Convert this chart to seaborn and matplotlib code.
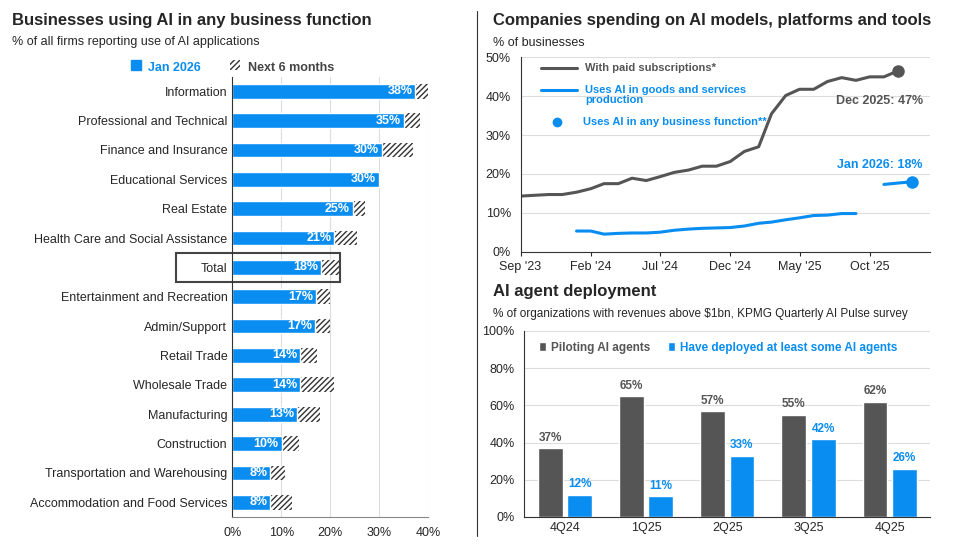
import matplotlib.pyplot as plt
import seaborn as sns
import numpy as np
import pandas as pd

sns.set_style("white")
plt.rcParams['font.family'] = ['Liberation Sans', 'DejaVu Sans']

BLUE = "#0a8df0"
GREY = "#555555"

# left panel
sectors = ["Information", "Professional and Technical", "Finance and Insurance", "Educational Services",
           "Real Estate", "Health Care and Social Assistance", "Total", "Entertainment and Recreation",
           "Admin/Support", "Retail Trade", "Wholesale Trade", "Manufacturing", "Construction",
           "Transportation and Warehousing", "Accommodation and Food Services"]
jan26 = [37.4, 35.0, 30.5, 30.0, 24.6, 20.8, 18.2, 17.1, 16.9, 13.9, 13.9, 13.2, 10.1, 7.8, 7.8]
next6 = [40.1, 38.4, 36.9, 30.0, 27.2, 25.5, 22.2, 19.9, 19.9, 17.4, 20.7, 18.0, 13.6, 10.7, 12.3]
jan_labels = ["38%", "35%", "30%", "30%", "25%", "21%", "18%", "17%", "17%", "14%", "14%", "13%", "10%", "8%", "8%"]

# top right
months = pd.date_range("2023-09-01", "2025-12-01", freq="MS")
paid = [14.3, 14.5, 14.7, 14.7, 15.3, 16.2, 17.5, 17.5, 18.9, 18.3, 19.3, 20.4, 21.0, 22.0, 22.0, 23.2,
        25.8, 27.0, 35.5, 40.2, 41.8, 41.8, 43.8, 44.8, 44.1, 45.0, 45.0, 46.5]
prod_months = pd.date_range("2024-01-01", "2025-09-01", freq="MS")
production = [5.3, 5.3, 4.5, 4.7, 4.8, 4.8, 5.0, 5.5, 5.8, 6.0, 6.1, 6.2, 6.6, 7.3, 7.6, 8.2, 8.7, 9.3, 9.4, 9.8, 9.8]
any_months = pd.to_datetime(["2025-11-01", "2026-01-01"])
any_func = [17.3, 18.0]

# bottom right
quarters = ["4Q24", "1Q25", "2Q25", "3Q25", "4Q25"]
piloting = [37, 65, 57, 55, 62]
deployed = [12, 11, 33, 42, 26]

fig = plt.figure(figsize=(9.64, 5.47), dpi=100)
ax1 = fig.add_axes([0.241, 0.055, 0.203, 0.805])
ax2 = fig.add_axes([0.54, 0.54, 0.425, 0.355])
ax3 = fig.add_axes([0.544, 0.055, 0.421, 0.34])
fig.add_artist(plt.Line2D([0.495, 0.495], [0.02, 0.98], color="#333333", lw=0.8))

# ---- left bars
y = np.arange(len(sectors))
ax1.barh(y, next6, height=0.5, color="white", edgecolor="#333333", hatch="//////", lw=0)
sns.barplot(x=jan26, y=sectors, orient="h", color=BLUE, width=0.5, ax=ax1, saturation=1)
for i, (v, t) in enumerate(zip(jan26, jan_labels)):
    ax1.text(v - 0.6, i, t, ha="right", va="center", color="white", fontsize=9, fontweight="bold")
ax1.set_xlim(0, 40)
ax1.set_ylim(len(sectors) - 0.5, -0.5)
ax1.set_xticks([0, 10, 20, 30, 40])
ax1.set_xticklabels(["0%", "10%", "20%", "30%", "40%"], fontsize=9)
ax1.tick_params(axis="y", labelsize=9, length=0)
ax1.grid(axis="x", color="#dddddd")
ax1.set_axisbelow(True)
for s in ["top", "right"]:
    ax1.spines[s].set_visible(False)
ax1.spines["left"].set_color("#333333")
ax1.spines["bottom"].set_color("#888888")
ax1.add_patch(plt.Rectangle((-11.5, 5.5), 33.5, 1.0, fill=False, edgecolor="#444444", lw=1.5, clip_on=False))
fig.text(0.012, 0.955, "Businesses using AI in any business function", fontsize=12, fontweight="bold")
fig.text(0.012, 0.918, "% of all firms reporting use of AI applications", fontsize=9)
fig.patches.append(plt.Rectangle((0.136, 0.872), 0.01, 0.018, color=BLUE, transform=fig.transFigure))
fig.text(0.154, 0.871, "Jan 2026", fontsize=9, fontweight="bold", color=BLUE)
fig.patches.append(plt.Rectangle((0.239, 0.872), 0.01, 0.018, facecolor="white", edgecolor="#333333",
                                 hatch="//////", lw=0, transform=fig.transFigure))
fig.text(0.257, 0.871, "Next 6 months", fontsize=9, fontweight="bold", color="#444444")

# ---- top right lines
sns.lineplot(x=months, y=paid, color=GREY, lw=2.2, ax=ax2)
sns.lineplot(x=prod_months, y=production, color=BLUE, lw=2.2, ax=ax2)
sns.lineplot(x=any_months, y=any_func, color=BLUE, lw=2.2, ax=ax2)
ax2.plot(months[-1], paid[-1], "o", color=GREY, ms=8)
ax2.plot(any_months[-1], any_func[-1], "o", color=BLUE, ms=8)
ax2.text(pd.Timestamp("2026-01-25"), 38, "Dec 2025: 47%", ha="right", fontsize=9, fontweight="bold", color=GREY)
ax2.text(pd.Timestamp("2026-01-25"), 21.5, "Jan 2026: 18%", ha="right", fontsize=9, fontweight="bold", color=BLUE)
ax2.plot([pd.Timestamp("2023-10-15"), pd.Timestamp("2024-01-01")], [47.3, 47.3], color=GREY, lw=2.2)
ax2.text(pd.Timestamp("2024-01-20"), 47.3, "With paid subscriptions*", va="center", fontsize=8, fontweight="bold", color=GREY)
ax2.plot([pd.Timestamp("2023-10-15"), pd.Timestamp("2024-01-01")], [41.5, 41.5], color=BLUE, lw=2.2)
ax2.text(pd.Timestamp("2024-01-20"), 40.3, "Uses AI in goods and services\nproduction", va="center",
         fontsize=8, fontweight="bold", color=BLUE, linespacing=1.0)
ax2.plot(pd.Timestamp("2023-11-20"), 33.5, "o", color=BLUE, ms=6)
ax2.text(pd.Timestamp("2024-01-15"), 33.5, "Uses AI in any business function**", va="center", fontsize=8, fontweight="bold", color=BLUE)
ax2.set_xlim(pd.Timestamp("2023-09-01"), pd.Timestamp("2026-02-10"))
ax2.set_ylim(0, 50)
ax2.set_yticks(range(0, 51, 10))
ax2.set_yticklabels([f"{v}%" for v in range(0, 51, 10)], fontsize=9)
ticks = pd.to_datetime(["2023-09-01", "2024-02-01", "2024-07-01", "2024-12-01", "2025-05-01", "2025-10-01"])
ax2.set_xticks(ticks)
ax2.set_xticklabels(["Sep '23", "Feb '24", "Jul '24", "Dec '24", "May '25", "Oct '25"], fontsize=9)
ax2.set_xlabel("")
ax2.set_ylabel("")
ax2.tick_params(axis="x", length=3, bottom=True)
ax2.grid(axis="y", color="#dddddd")
for s in ["top", "right"]:
    ax2.spines[s].set_visible(False)
ax2.spines["left"].set_color("#333333")
ax2.spines["bottom"].set_color("#333333")
fig.text(0.511, 0.955, "Companies spending on AI models, platforms and tools", fontsize=12, fontweight="bold")
fig.text(0.511, 0.916, "% of businesses", fontsize=9)

# ---- bottom right bars
df = pd.DataFrame({"quarter": quarters * 2, "value": piloting + deployed,
                   "series": ["Piloting AI agents"] * 5 + ["Have deployed at least some AI agents"] * 5})
sns.barplot(data=df, x="quarter", y="value", hue="series", palette=[GREY, BLUE], width=0.72,
            saturation=1, ax=ax3, gap=0.15)
for cont, col in zip(ax3.containers, [GREY, BLUE]):
    ax3.bar_label(cont, labels=[f"{int(v)}%" for v in cont.datavalues], padding=3, fontsize=8.5,
                  fontweight="bold", color=col)
ax3.set_ylim(0, 100)
ax3.set_yticks(range(0, 101, 20))
ax3.set_yticklabels([f"{v}%" for v in range(0, 101, 20)], fontsize=9)
ax3.set_xlabel("")
ax3.set_ylabel("")
ax3.tick_params(axis="x", labelsize=9, length=0)
ax3.grid(axis="y", color="#dddddd")
ax3.set_axisbelow(True)
for s in ["top", "right"]:
    ax3.spines[s].set_visible(False)
ax3.spines["left"].set_color("#333333")
ax3.spines["bottom"].set_color("#333333")
leg = ax3.legend(loc="upper left", bbox_to_anchor=(0.01, 1.0), ncol=2, frameon=False, fontsize=8.5,
                 handlelength=0.6, handleheight=0.8, columnspacing=1.5, handletextpad=0.4)
for txt, col in zip(leg.get_texts(), [GREY, BLUE]):
    txt.set_color(col)
    txt.set_fontweight("bold")
fig.text(0.511, 0.458, "AI agent deployment", fontsize=12, fontweight="bold")
fig.text(0.511, 0.42, "% of organizations with revenues above $1bn, KPMG Quarterly AI Pulse survey", fontsize=8.5)

fig.savefig("out.png", dpi=100)
